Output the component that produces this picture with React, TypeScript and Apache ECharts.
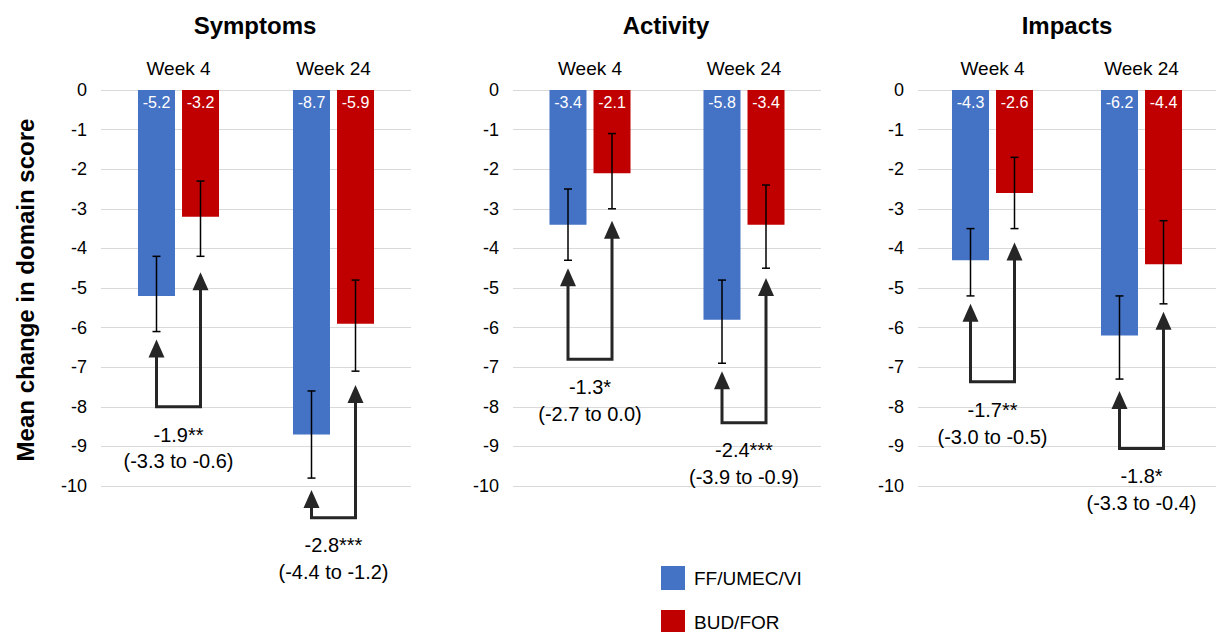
import { useEffect, useRef } from "react";
import * as echarts from "echarts";

const panels = ["Symptoms", "Activity", "Impacts"];
const weeks = ["Week 4", "Week 24"];
const seriesNames = ["FF/UMEC/VI", "BUD/FOR"];
const colors = ["#4472C4", "#C00000"];

// [panel][week]
const blueValues = [[-5.2, -8.7], [-3.4, -5.8], [-4.3, -6.2]];
const redValues = [[-3.2, -5.9], [-2.1, -3.4], [-2.6, -4.4]];
// error bar [low, high]
const blueErr = [[[-6.1, -4.2], [-9.8, -7.6]], [[-4.3, -2.5], [-6.9, -4.8]], [[-5.2, -3.5], [-7.3, -5.2]]];
const redErr = [[[-4.2, -2.3], [-7.1, -4.8]], [[-3.0, -1.1], [-4.5, -2.4]], [[-3.5, -1.7], [-5.4, -3.3]]];
// bracket: [blueTip, redTip, bottom]
const brackets = [
  [[-6.3, -4.6, -8.0], [-10.1, -7.45, -10.8]],
  [[-4.5, -3.3, -6.8], [-7.1, -4.75, -8.4]],
  [[-5.4, -3.85, -7.37], [-7.6, -5.6, -9.05]],
];
const diffLabels = [
  [["-1.9**", "(-3.3 to -0.6)"], ["-2.8***", "(-4.4 to -1.2)"]],
  [["-1.3*", "(-2.7 to 0.0)"], ["-2.4***", "(-3.9 to -0.9)"]],
  [["-1.7**", "(-3.0 to -0.5)"], ["-1.8*", "(-3.3 to -0.4)"]],
];

const FONT = "Liberation Sans, Arial, sans-serif";
const gridLefts = [101, 513, 918];
const gridWidths = [310, 308, 300];
const BAR_W = 37;
const OFF = 22;
const INK = "#262626";

export default function App() {
  const ref = useRef<HTMLDivElement | null>(null);
  useEffect(() => {
    document.body.style.margin = "0";
    if (!ref.current) return;
    const chart = echarts.init(ref.current, undefined, { renderer: "svg" });
    const series: any[] = [];
    panels.forEach((_, p) => {
      [blueValues, redValues].forEach((vals, s) => {
        series.push({
          name: seriesNames[s],
          type: "bar",
          xAxisIndex: p,
          yAxisIndex: p,
          data: vals[p],
          barWidth: BAR_W,
          barGap: "19%",
          itemStyle: { color: colors[s] },
          label: {
            show: true,
            position: "insideTop",
            color: "#fff",
            fontSize: 16,
            fontFamily: FONT,
            distance: 4,
          },
          z: 2,
        });
      });
      const errData: number[][] = [];
      [blueErr, redErr].forEach((e, s) =>
        e[p].forEach((r, w) => errData.push([w, r[0], r[1], s === 0 ? -OFF : OFF]))
      );
      series.push({
        type: "custom",
        xAxisIndex: p,
        yAxisIndex: p,
        z: 5,
        data: errData,
        renderItem: (params: any, api: any) => {
          const lo = api.coord([api.value(0), api.value(1)]);
          const hi = api.coord([api.value(0), api.value(2)]);
          const x = lo[0] + api.value(3);
          const st = { stroke: "#000", lineWidth: 1.5 };
          return {
            type: "group",
            children: [
              { type: "line", shape: { x1: x, y1: lo[1], x2: x, y2: hi[1] }, style: st },
              { type: "line", shape: { x1: x - 4, y1: lo[1], x2: x + 4, y2: lo[1] }, style: st },
              { type: "line", shape: { x1: x - 4, y1: hi[1], x2: x + 4, y2: hi[1] }, style: st },
            ],
          };
        },
      });
      series.push({
        type: "custom",
        xAxisIndex: p,
        yAxisIndex: p,
        z: 6,
        clip: false,
        data: brackets[p].map((b, w) => [w, b[0], b[1], b[2]]),
        renderItem: (params: any, api: any) => {
          const w = api.value(0);
          const tb = api.coord([w, api.value(1)]);
          const tr = api.coord([w, api.value(2)]);
          const bt = api.coord([w, api.value(3)]);
          const xb = tb[0] - OFF;
          const xr = tb[0] + OFF;
          const hh = 18;
          const hw = 8;
          const st = { stroke: INK, lineWidth: 3, fill: "none" };
          const lbl = diffLabels[p][w];
          const tx = tb[0];
          const step = api.size([0, 1])[1];
          return {
            type: "group",
            children: [
              {
                type: "polyline",
                shape: { points: [[xb, tb[1] + hh - 2], [xb, bt[1]], [xr, bt[1]], [xr, tr[1] + hh - 2]] },
                style: st,
              },
              { type: "polygon", shape: { points: [[xb, tb[1]], [xb - hw, tb[1] + hh], [xb + hw, tb[1] + hh]] }, style: { fill: INK } },
              { type: "polygon", shape: { points: [[xr, tr[1]], [xr - hw, tr[1] + hh], [xr + hw, tr[1] + hh]] }, style: { fill: INK } },
              {
                type: "text",
                style: { x: tx, y: bt[1] + step * 0.7, text: lbl[0], fill: "#000", font: `20px ${FONT}`, align: "center", verticalAlign: "middle" },
              },
              {
                type: "text",
                style: { x: tx, y: bt[1] + step * 1.38, text: lbl[1], fill: "#000", font: `20px ${FONT}`, align: "center", verticalAlign: "middle" },
              },
            ],
          };
        },
      });
    });

    chart.setOption({
      animation: false,
      title: panels.map((t, p) => ({
        text: t,
        left: gridLefts[p] + gridWidths[p] / 2 - 6,
        top: 8,
        textAlign: "center",
        textStyle: { fontSize: 24, fontWeight: "bold", fontFamily: FONT, color: "#000" },
      })),
      legend: seriesNames.map((n, i) => ({
        data: [n],
        left: 656,
        top: 561 + i * 44,
        itemWidth: 24,
        itemHeight: 24,
        icon: "rect",
        textStyle: { fontSize: 19, fontFamily: FONT, color: "#000", padding: [0, 0, 0, 4] },
      })),
      grid: panels.map((_, p) => ({ left: gridLefts[p], width: gridWidths[p], top: 90, height: 396 })),
      xAxis: panels.map((_, p) => ({
        type: "category",
        gridIndex: p,
        position: "top",
        data: weeks,
        axisLine: { show: false },
        axisTick: { show: false },
        axisLabel: { fontSize: 19, fontFamily: FONT, color: "#000", margin: 12 },
      })),
      yAxis: panels.map((_, p) => ({
        type: "value",
        gridIndex: p,
        min: -10,
        max: 0,
        interval: 1,
        axisLine: { show: false },
        axisTick: { show: false },
        splitLine: { lineStyle: { color: "#d9d9d9", width: 1 } },
        axisLabel: { fontSize: 18, fontFamily: FONT, color: "#000", margin: 14 },
      })),
      graphic: [
        {
          type: "text",
          x: 25,
          y: 290,
          rotation: Math.PI / 2,
          style: {
            text: "Mean change in domain score",
            font: `bold 24px ${FONT}`,
            fill: "#000",
            align: "center",
            verticalAlign: "middle",
          },
        },
      ],
      series,
    });
    return () => chart.dispose();
  }, []);
  return <div ref={ref} style={{ width: 1216, height: 632 }} />;
}
